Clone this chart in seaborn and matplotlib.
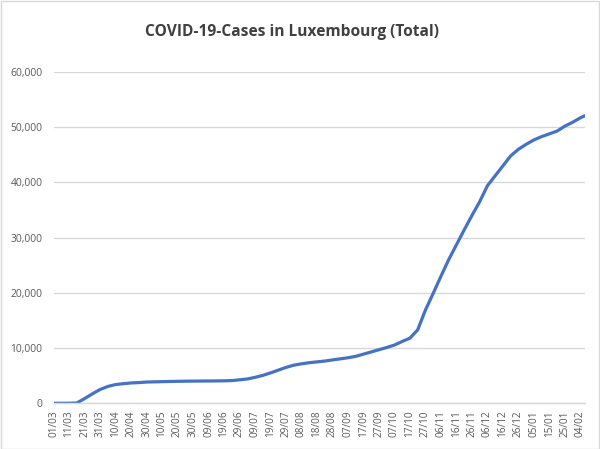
"""Grafico de casos acumulados de COVID-19 em Luxemburgo (estilo Excel)."""

import pandas as pd
import matplotlib
matplotlib.use("Agg")
import matplotlib.pyplot as plt
import matplotlib.dates as mdates
from matplotlib.patches import Rectangle
from matplotlib.ticker import FuncFormatter
import seaborn as sns

TITULO = "COVID-19-Cases in Luxembourg (Total)"

# leituras a cada 5 dias a partir de 01/03/2020, mais o ultimo ponto (07/02/2021)
DATAS = list(pd.date_range("2020-03-01", "2021-02-04", freq="5D")) + [pd.Timestamp("2021-02-07")]
CASOS = [
    0, 5, 10, 60, 850, 1700, 2500, 3050, 3390, 3550,
    3680, 3750, 3850, 3880, 3920, 3950, 3980, 4000, 4020, 4030,
    4040, 4050, 4070, 4110, 4250, 4400, 4700, 5050, 5500, 6000,
    6500, 6900, 7150, 7350, 7500, 7650, 7850, 8050, 8250, 8500,
    8900, 9300, 9700, 10100, 10550, 11200, 11800, 13300, 16880, 19900,
    23000, 26000, 28700, 31400, 34000, 36500, 39400, 41200, 43000, 44800,
    46000, 46900, 47700, 48300, 48800, 49300, 50200, 50900, 51700, 52100,
]
TICKS_X = pd.date_range("2020-03-01", "2021-02-04", freq="10D")
TICKS_Y = [0, 10000, 20000, 30000, 40000, 50000, 60000]

CINZA_TEXTO = "#595959"
CINZA_GRADE = "#d9d9d9"
AZUL = "#4472c4"


def gerar_grafico():
    sns.set_theme(style="white")
    plt.rcParams["font.family"] = ["Open Sans", "DejaVu Sans"]

    dados = pd.DataFrame({"Data": DATAS, "Casos": CASOS})

    fig = plt.figure(figsize=(6.0, 4.49), dpi=100)
    ax = fig.add_axes([0.0893, 0.1018, 0.8857, 0.7378])

    sns.lineplot(data=dados, x="Data", y="Casos", color=AZUL, linewidth=2.3, ax=ax)

    ax.set_xlim(DATAS[0], DATAS[-1])
    ax.set_ylim(0, 60000)
    ax.set_yticks(TICKS_Y)
    ax.yaxis.set_major_formatter(FuncFormatter(lambda v, p: f"{int(v):,}"))
    ax.set_xticks(TICKS_X)
    ax.xaxis.set_major_formatter(mdates.DateFormatter("%d/%m"))

    ax.grid(axis="y", color=CINZA_GRADE, linewidth=1)
    ax.grid(axis="x", visible=False)
    ax.set_axisbelow(True)
    for lado in ["top", "right", "left"]:
        ax.spines[lado].set_visible(False)
    ax.spines["bottom"].set_color(CINZA_GRADE)
    ax.spines["bottom"].set_linewidth(1)

    ax.tick_params(axis="x", length=0, pad=5, labelsize=7.2, labelcolor=CINZA_TEXTO, rotation=90)
    ax.tick_params(axis="y", length=0, pad=8, labelsize=7.4, labelcolor=CINZA_TEXTO)
    ax.set_xlabel("")
    ax.set_ylabel("")

    fig.text(0.487, 0.928, TITULO, ha="center", va="center",
             fontsize=11.2, fontweight="bold", color="#404040")

    fig.patches.append(Rectangle((0.001, 0.001), 0.997, 0.997, transform=fig.transFigure,
                                 fill=False, edgecolor=CINZA_GRADE, linewidth=1))

    fig.savefig("out.png", dpi=100)
    plt.close(fig)


if __name__ == "__main__":
    gerar_grafico()
